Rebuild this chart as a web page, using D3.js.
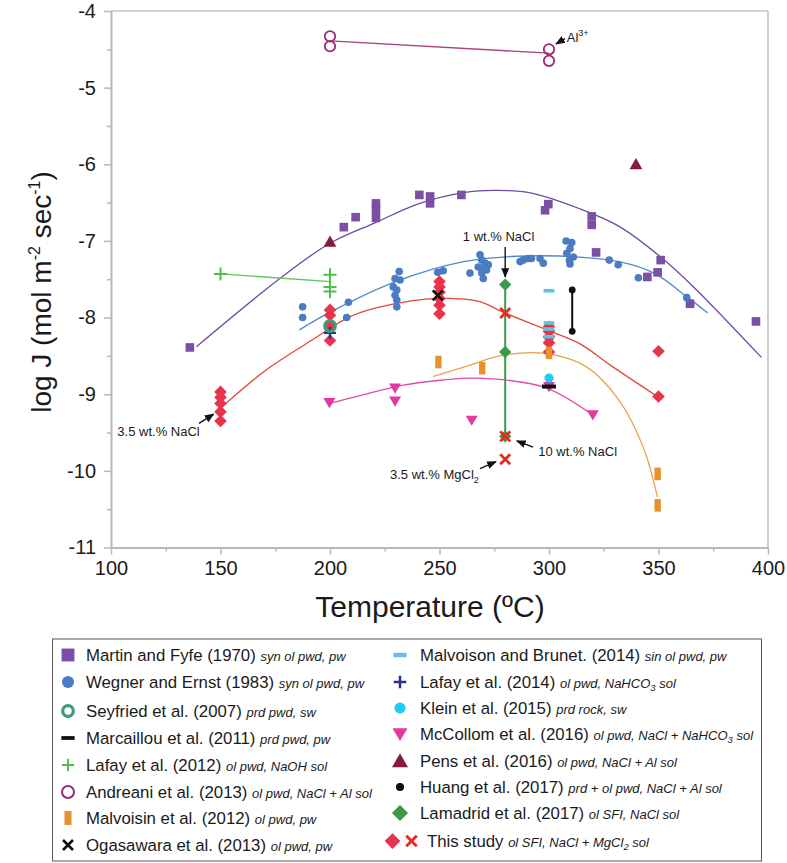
<!DOCTYPE html>
<html><head><meta charset="utf-8">
<script src="https://cdn.jsdelivr.net/npm/d3@7"></script>
<style>body{margin:0;background:#fff} text{font-family:"Liberation Sans",Arial,Helvetica,sans-serif;fill:#1a1a1a}</style>
</head><body><svg id="c" width="787" height="863"></svg>
<script>
// ---------- DATA (Temperature °C, log J) ----------
const xTicks = [100,150,200,250,300,350,400];
const xMinor = [125,175,225,275,325,375];
const yTicks = [-4,-5,-6,-7,-8,-9,-10,-11];
const yMinor = [-4.5,-5.5,-6.5,-7.5,-8.5,-9.5,-10.5];

const martinFyfe = [[136,-8.39],[206.3,-6.82],[211.7,-6.69],[221,-6.51],[221,-6.60],[221,-6.70],[240.8,-6.40],[245.7,-6.42],[245.7,-6.51],[260,-6.40],[299.7,-6.52],[298.2,-6.60],[319.5,-6.68],[319.5,-6.79],[321.5,-7.15],[351,-7.25],[349.6,-7.41],[344.9,-7.47],[364.4,-7.82],[394.5,-8.05]];
const wegnerErnst = [[187.5,-7.86],[187.5,-8.00],[208.4,-7.80],[207.6,-8.00],[231.6,-7.40],[229.7,-7.49],[232,-7.51],[228.9,-7.60],[230.5,-7.64],[229.7,-7.71],[230.5,-7.77],[230.5,-7.86],[249.2,-7.41],[251.7,-7.39],[268.5,-7.18],[269.3,-7.25],[270.8,-7.29],[272.3,-7.31],[267.7,-7.34],[270,-7.36],[271.5,-7.38],[269.3,-7.42],[270,-7.49],[263.9,-7.42],[286.8,-7.27],[288.3,-7.25],[290.5,-7.23],[292,-7.23],[295.9,-7.23],[297.4,-7.29],[307.8,-7.00],[310.4,-7.02],[309.6,-7.10],[308.1,-7.16],[311.1,-7.21],[309.3,-7.25],[309.6,-7.30],[327.5,-7.25],[331.6,-7.31],[340.8,-7.48],[362.9,-7.74]];
const seyfried = [[200,-8.11]];
const marcaillou = [[300,-8.90]];
const lafay2012 = [[150,-7.43],[200,-7.44],[200,-7.60],[200,-7.66]];
const lafay2012Line = [[150,-7.43],[200,-7.53]];
const andreani = [[200,-4.33],[200,-4.46],[300,-4.50],[300,-4.65]];
const andreaniLine = [[200,-4.39],[300,-4.55]];
const malvoisin = [[249.5,-8.58],[269.5,-8.66],[300,-8.46],[349.6,-10.04],[349.6,-10.45]];
const ogasawara = [[249.2,-7.71]];
const brunet = [[300,-7.65],[300,-8.07],[300,-8.15],[300,-8.25]];
const lafay2014 = [[200,-8.20]];
const klein = [[300,-8.79]];
const mccollom = [[300,-8.31],[199.7,-9.11],[229.7,-8.92],[229.7,-9.09],[264.7,-9.34],[300,-8.90],[320,-9.27]];
const pens = [[200,-7.01],[339.7,-6.00]];
const huang = [[310.6,-7.64],[310.6,-8.18]];
const lamadrid = [[280,-7.57],[280,-8.45],[280,-9.55]];
const thisStudyDiamond = [[150,-8.97],[150,-9.04],[150,-9.12],[150,-9.23],[150,-9.35],[200,-7.90],[200,-7.97],[200,-8.11],[200,-8.30],[250,-7.53],[250,-7.60],[250,-7.67],[250,-7.75],[250,-7.84],[250,-7.95],[300,-8.12],[300,-8.18],[300,-8.25],[300,-8.33],[300,-8.45],[350,-8.44],[350,-9.03]];
const thisStudyX = [[280,-7.94],[280,-9.55],[280,-9.85]];

// fitted trend curves
const curveMartin = [[139,-8.38],[178,-7.47],[200,-7.03],[220,-6.77],[241,-6.51],[261,-6.37],[275,-6.34],[291,-6.37],[314,-6.58],[332,-6.81],[351,-7.21],[366,-7.60],[397,-8.52]];
const curveWegner = [[186,-8.16],[202,-7.90],[230,-7.53],[261,-7.27],[285,-7.20],[314,-7.21],[332,-7.27],[348,-7.42],[363,-7.73],[372.5,-7.94]];
const curveThis = [[152,-9.13],[171,-8.68],[192,-8.29],[209,-7.99],[223,-7.86],[250,-7.75],[268,-7.79],[279,-7.93],[299,-8.16],[314,-8.34],[328,-8.62],[349,-9.02]];
const curveMalvoisin = [[247,-8.77],[264,-8.62],[279,-8.49],[299,-8.47],[317,-8.64],[332,-9.08],[343,-9.69],[349.5,-10.34]];
const curveMcCollom = [[200,-9.12],[223,-8.95],[233.5,-8.88],[264,-8.79],[279,-8.81],[299,-8.92],[319.5,-9.26]];

const legendLeft = [
  {sym:'square', name:'Martin and Fyfe (1970)', desc:[['syn ol pwd, pw']]},
  {sym:'circle', name:'Wegner and Ernst (1983)', desc:[['syn ol pwd, pw']]},
  {sym:'ring', name:'Seyfried et al. (2007)', desc:[['prd pwd, sw']]},
  {sym:'dash', name:'Marcaillou et al. (2011)', desc:[['prd pwd, pw']]},
  {sym:'plusG', name:'Lafay et al. (2012)', desc:[['ol pwd, NaOH sol']]},
  {sym:'ocircle', name:'Andreani et al. (2013)', desc:[['ol pwd, NaCl + Al sol']]},
  {sym:'bar', name:'Malvoisin et al. (2012)', desc:[['ol pwd, pw']]},
  {sym:'xK', name:'Ogasawara et al. (2013)', desc:[['ol pwd, pw']]}
];
const legendRight = [
  {sym:'cdash', name:'Malvoison and Brunet. (2014)', desc:[['sin ol pwd, pw']]},
  {sym:'plusN', name:'Lafay et al. (2014)', desc:[['ol pwd, NaHCO'],['3',1],[' sol']]},
  {sym:'cyan', name:'Klein et al. (2015)', desc:[['prd rock, sw']]},
  {sym:'tdown', name:'McCollom et al. (2016)', desc:[['ol pwd, NaCl + NaHCO'],['3',1],[' sol']]},
  {sym:'tup', name:'Pens et al. (2016)', desc:[['ol pwd, NaCl + Al sol']]},
  {sym:'dot', name:'Huang et al. (2017)', desc:[['prd + ol pwd, NaCl + Al sol']]},
  {sym:'diamond', name:'Lamadrid et al. (2017)', desc:[['ol SFI, NaCl sol']]},
  {sym:'this', name:'This study', desc:[['ol SFI, NaCl + MgCl'],['2',1],[' sol']]}
];

// ---------- CHART ----------
const C = {martin:'#7b4fa6', wegner:'#4a7bc3', seyfried:'#3b9d79', black:'#111', lafay12:'#4cc04a',
  andreani:'#9a2b78', malvoisin:'#e8922e', brunet:'#62c2de', lafay14:'#26338a', klein:'#1fcbf2',
  mccollom:'#e03aa2', pens:'#8a1a3d', lamadrid:'#3a9a48', red:'#e8344a', redx:'#e62a22'};

const svg = d3.select('#c');
const x = d3.scaleLinear([100,400],[111,768]);
const y = d3.scaleLinear([-11,-4],[547.5,11]);

// frame top / right
svg.append('line').attr('x1',x(100)).attr('x2',x(400)).attr('y1',y(-4)).attr('y2',y(-4)).attr('stroke','#c4c4c4').attr('stroke-width',1.6);
svg.append('line').attr('x1',x(400)).attr('x2',x(400)).attr('y1',y(-4)).attr('y2',y(-11)).attr('stroke','#c4c4c4').attr('stroke-width',1.6);

function styleAxis(g){
  g.select('.domain').attr('stroke','#b8b8b8').attr('stroke-width',2);
  g.selectAll('.tick line').attr('stroke','#b8b8b8').attr('stroke-width',1.5);
  g.selectAll('.tick text').style('font-size','20px').attr('fill','#1a1a1a');
}
const gx = svg.append('g').attr('transform',`translate(0,${y(-11)})`)
  .call(d3.axisBottom(x).tickValues(xTicks).tickSize(7).tickSizeOuter(0).tickPadding(6).tickFormat(d=>String(d)));
styleAxis(gx);
const gxm = svg.append('g').attr('transform',`translate(0,${y(-11)})`)
  .call(d3.axisBottom(x).tickValues(xMinor).tickSize(4).tickSizeOuter(0).tickFormat(''));
styleAxis(gxm); gxm.select('.domain').remove();
const gy = svg.append('g').attr('transform',`translate(${x(100)},0)`)
  .call(d3.axisLeft(y).tickValues(yTicks).tickSize(7).tickSizeOuter(0).tickPadding(8).tickFormat(d=>String(d)));
styleAxis(gy);
const gym = svg.append('g').attr('transform',`translate(${x(100)},0)`)
  .call(d3.axisLeft(y).tickValues(yMinor).tickSize(4).tickSizeOuter(0).tickFormat(''));
styleAxis(gym); gym.select('.domain').remove();

// axis titles
svg.append('text').attr('x',430).attr('y',617).attr('text-anchor','middle').style('font-size','30px').text('Temperature (ºC)');
const yt = svg.append('text').attr('transform','translate(51,292) rotate(-90)').attr('text-anchor','middle').style('font-size','28px');
yt.append('tspan').text('log J (mol m');
yt.append('tspan').attr('dy',-11).style('font-size','16px').text('-2');
yt.append('tspan').attr('dy',11).text(' sec');
yt.append('tspan').attr('dy',-11).style('font-size','16px').text('-1');
yt.append('tspan').attr('dy',11).text(')');

// curves
const line = d3.line().x(d=>x(d[0])).y(d=>y(d[1])).curve(d3.curveCatmullRom);
const straight = d3.line().x(d=>x(d[0])).y(d=>y(d[1]));
const plot = svg.append('g');
function path(data, color, gen, w){ plot.append('path').attr('d',(gen||line)(data)).attr('fill','none').attr('stroke',color).attr('stroke-width',w||1.3); }
path(curveMartin,'#6e4aa2');
path(curveWegner,'#4c8ccb');
path(curveThis,'#e2483a');
path(curveMalvoisin,'#e9a443');
path(curveMcCollom,'#e24aaa');
path(andreaniLine,'#a8427f',straight,1.4);
path(lafay2012Line,'#5cc85a',straight,1.3);
path([lamadrid[0],lamadrid[2]],C.lamadrid,straight,2);
path(huang,'#111',straight,2);

// symbols
function sym(g, type, cx, cy, k){
  k = k||1;
  const t = g.append('g').attr('transform',`translate(${cx},${cy}) scale(${k})`);
  switch(type){
    case 'square': t.append('rect').attr('x',-4.3).attr('y',-4.3).attr('width',8.6).attr('height',8.6).attr('fill',C.martin); break;
    case 'circle': t.append('circle').attr('r',3.8).attr('fill',C.wegner); break;
    case 'ring': t.append('circle').attr('r',5.3).attr('fill','none').attr('stroke',C.seyfried).attr('stroke-width',3.2); break;
    case 'dash': t.append('rect').attr('x',-7).attr('y',-2).attr('width',14).attr('height',4).attr('fill',C.black); break;
    case 'plusG': t.append('path').attr('d','M-6.5,0H6.5M0,-6.5V6.5').attr('stroke',C.lafay12).attr('stroke-width',2); break;
    case 'plusN': t.append('path').attr('d','M-6,0H6M0,-6V6').attr('stroke',C.lafay14).attr('stroke-width',2.4); break;
    case 'ocircle': t.append('circle').attr('r',5.2).attr('fill','none').attr('stroke',C.andreani).attr('stroke-width',1.8); break;
    case 'bar': t.append('rect').attr('x',-3.2).attr('y',-6.3).attr('width',6.4).attr('height',12.6).attr('fill',C.malvoisin); break;
    case 'xK': t.append('path').attr('d','M-5,-5L5,5M-5,5L5,-5').attr('stroke',C.black).attr('stroke-width',2.6); break;
    case 'cdash': t.append('rect').attr('x',-5.4).attr('y',-1.8).attr('width',10.8).attr('height',3.6).attr('fill',C.brunet); break;
    case 'cyan': t.append('circle').attr('r',4.6).attr('fill',C.klein); break;
    case 'tdown': t.append('path').attr('d','M-6,-4.6L6,-4.6L0,5.6Z').attr('fill',C.mccollom); break;
    case 'tup': t.append('path').attr('d','M-6.4,5L6.4,5L0,-6.2Z').attr('fill',C.pens); break;
    case 'dot': t.append('circle').attr('r',3.4).attr('fill',C.black); break;
    case 'diamond': t.append('path').attr('d','M0,-6.2L6.2,0L0,6.2L-6.2,0Z').attr('fill',C.lamadrid); break;
    case 'rdiamond': t.append('path').attr('d','M0,-6.3L6.3,0L0,6.3L-6.3,0Z').attr('fill',C.red); break;
    case 'rx': t.append('path').attr('d','M-5,-5L5,5M-5,5L5,-5').attr('stroke',C.redx).attr('stroke-width',2.8); break;
  }
}
function series(data, type){ data.forEach(d=>sym(plot,type,x(d[0]),y(d[1]))); }
series(martinFyfe,'square');
series(wegnerErnst,'circle');
series(mccollom,'tdown');
series(thisStudyDiamond,'rdiamond');
series(malvoisin,'bar');
series(brunet,'cdash');
series(marcaillou,'dash');
series(klein,'cyan');
series(lafay2014,'plusN');
series(lafay2012,'plusG');
series(pens,'tup');
series(huang,'dot');
series(lamadrid,'diamond');
series(thisStudyX,'rx');
series(ogasawara,'xK');
series(seyfried,'ring');
series(andreani,'ocircle');

// annotations
const defs = svg.append('defs');
defs.append('marker').attr('id','ah').attr('viewBox','0 0 10 10').attr('refX',9).attr('refY',5)
  .attr('markerWidth',7).attr('markerHeight',7).attr('orient','auto')
  .append('path').attr('d','M0,1L10,5L0,9Z').attr('fill','#111');
function arrow(a,b){ svg.append('line').attr('x1',x(a[0])).attr('y1',y(a[1])).attr('x2',x(b[0])).attr('y2',y(b[1]))
  .attr('stroke','#111').attr('stroke-width',1.4).attr('marker-end','url(#ah)'); }
function note(p, parts, anchor){
  const tx = svg.append('text').attr('x',x(p[0])).attr('y',y(p[1])).attr('text-anchor',anchor||'start').style('font-size','13px');
  parts.forEach(pt=>{
    if(pt[1]==='sub') tx.append('tspan').attr('dy',4).style('font-size','9px').text(pt[0]);
    else if(pt[1]==='sup') tx.append('tspan').attr('dy',-6).style('font-size','9px').text(pt[0]);
    else tx.append('tspan').text(pt[0]);
  });
}
note([277,-7.0], [['1 wt.% NaCl']], 'middle');
arrow([280,-7.08],[280,-7.47]);
note([102.9,-9.54], [['3.5 wt.% NaCl']]);
arrow([140.2,-9.38],[146.9,-9.26]);
note([295.1,-9.81], [['10 wt.% NaCl']]);
arrow([292.7,-9.69],[285.3,-9.61]);
note([227.4,-10.11], [['3.5 wt.% MgCl'],['2','sub']]);
arrow([268.5,-9.97],[275.8,-9.88]);
note([308.1,-4.41], [['Al'],['3+','sup']]);
arrow([307.3,-4.36],[303.2,-4.43]);

// ---------- LEGEND ----------
svg.append('rect').attr('x',52.5).attr('y',639).attr('width',709).attr('height',222).attr('fill','none').attr('stroke','#555').attr('stroke-width',1);
const legYL = [655,682,711,738,765,792,818,845];
const legYR = [655,682,708,734,761,787,813,841];
const legK = {square:1.5, circle:1.6, ring:1.0, dash:0.95, plusG:0.95, ocircle:1.15, bar:1.1, xK:1.0,
  cdash:1.2, plusN:1.05, cyan:1.2, tdown:1.25, tup:1.25, dot:1.2, diamond:1.3};
function legendText(tx0, ty, item){
  const tx = svg.append('text').attr('x',tx0).attr('y',ty+6).style('font-size','16.8px');
  tx.append('tspan').text(item.name+' ');
  let sub = false;
  item.desc.forEach(p=>{
    const s = tx.append('tspan').style('font-style','italic').style('font-size', p[1]? '9.5px':'13px').text(p[0]);
    if(p[1]){ s.attr('dy',3); sub = true; }
    else if(sub){ s.attr('dy',-3); sub = false; }
  });
}
const lg = svg.append('g');
legendLeft.forEach((it,i)=>{ sym(lg,it.sym,68,legYL[i],legK[it.sym]); legendText(86,legYL[i],it); });
legendRight.forEach((it,i)=>{
  if(it.sym==='this'){ sym(lg,'rdiamond',392.5,legYR[i],1.25); sym(lg,'rx',411.5,legYR[i],1.05); legendText(427,legYR[i],it); }
  else { sym(lg,it.sym,400,legYR[i],legK[it.sym]); legendText(420,legYR[i],it); }
});
</script></body></html>
